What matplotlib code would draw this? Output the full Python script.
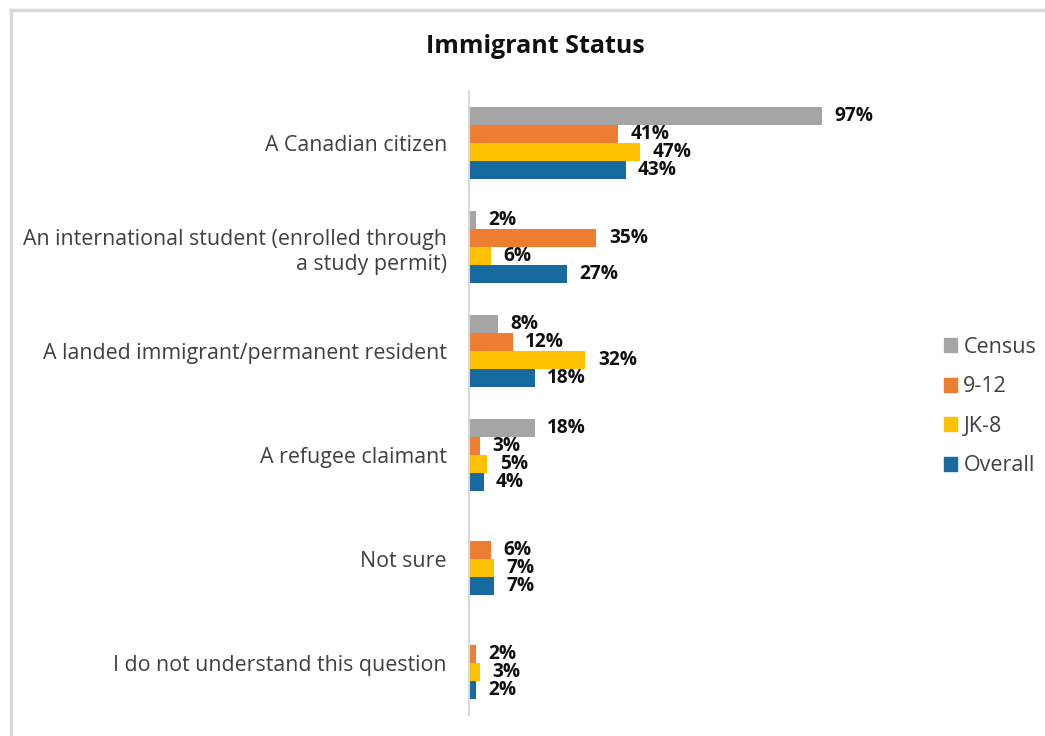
import numpy as np
import matplotlib.pyplot as plt
from matplotlib.patches import Patch
from matplotlib.lines import Line2D

plt.rcParams['font.family'] = ['Open Sans', 'DejaVu Sans']

categories = [
    'A Canadian citizen',
    'An international student (enrolled through\na study permit)',
    'A landed immigrant/permanent resident',
    'A refugee claimant',
    'Not sure',
    'I do not understand this question',
]
series_names = ['Census', '9-12', 'JK-8', 'Overall']
census = [97, 2, 8, 18, None, None]
grade_9_12 = [41, 35, 12, 3, 6, 2]
jk_8 = [47, 6, 32, 5, 7, 3]
overall = [43, 27, 18, 4, 7, 2]
colors = ['#A5A5A5', '#ED7D31', '#FFC000', '#17699E']

fig = plt.figure(figsize=(10.45, 7.36), dpi=100)
ax = fig.add_axes([0.4488, 0.0285, 0.3483, 0.8478])

y = np.arange(len(categories))
h = 0.173
offsets = [-1.5 * h, -0.5 * h, 0.5 * h, 1.5 * h]

for vals, off, col in zip([census, grade_9_12, jk_8, overall], offsets, colors):
    for yi, v in zip(y, vals):
        if v is None:
            continue
        ax.barh(yi + off, v, height=h, color=col)
        ax.annotate(f'{v}%', (v, yi + off), xytext=(9, 0), textcoords='offset points',
                    ha='left', va='center', fontsize=13.8, fontweight='bold', color='#111111')

ax.set_xlim(0, 100)
ax.set_ylim(len(categories) - 0.5, -0.5)
ax.set_yticks(y)
ax.set_yticklabels(categories, fontsize=15.4, color='#404040', linespacing=1.3)
ax.tick_params(axis='y', length=0, pad=16)
ax.set_xticks([])
for s in ['top', 'right', 'bottom']:
    ax.spines[s].set_visible(False)
ax.spines['left'].set_color('#D9D9D9')
ax.spines['left'].set_linewidth(1.5)

fig.text(0.512, 0.937, 'Immigrant Status', ha='center', va='center',
         fontsize=18, fontweight='bold', color='#111111')

handles = [Patch(color=c) for c in colors]
fig.legend(handles, series_names, loc='center left', bbox_to_anchor=(0.893, 0.4475),
           frameon=False, fontsize=15.5, labelcolor='#404040', handlelength=0.6,
           handleheight=0.6, handletextpad=0.3, labelspacing=0.86, borderpad=0)

# outer frame (top and left edges)
fig.add_artist(Line2D([0.0105, 0.999], [0.9865, 0.9865], color='#D9D9D9', lw=2.5,
                      transform=fig.transFigure))
fig.add_artist(Line2D([0.0105, 0.0105], [0.0, 0.9865], color='#D9D9D9', lw=2.5,
                      transform=fig.transFigure))

fig.savefig('out.png', dpi=100, facecolor='white')
